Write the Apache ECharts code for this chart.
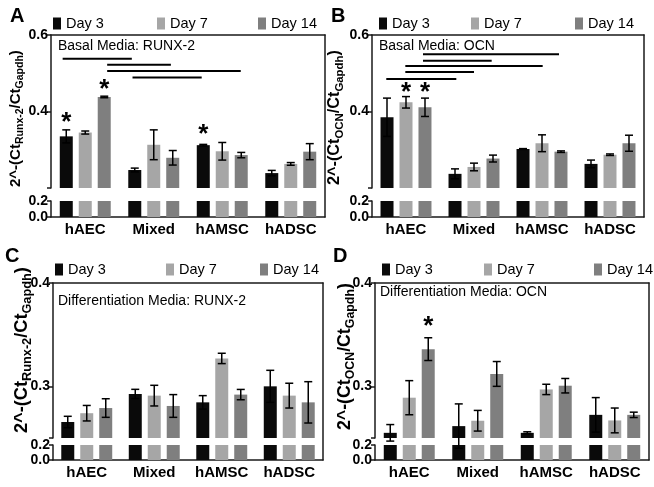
<!DOCTYPE html>
<html><head><meta charset="utf-8">
<script src="https://cdn.jsdelivr.net/npm/echarts@6/dist/echarts.min.js"></script>
<style>html,body{margin:0;padding:0;background:#fff}#c{width:654px;height:487px}</style>
</head><body><div id="c"></div>
<script>
const categories = ['hAEC', 'Mixed', 'hAMSC', 'hADSC'];
const days = ['Day 3', 'Day 7', 'Day 14'];

// Panel A: Basal Media RUNX-2
const aDay3 = [0.335, 0.247, 0.312, 0.239];
const aDay7 = [0.345, 0.313, 0.296, 0.263];
const aDay14 = [0.438, 0.279, 0.286, 0.295];
const aErr3 = [0.017, 0.005, 0.002, 0.007];
const aErr7 = [0.004, 0.039, 0.023, 0.0035];
const aErr14 = [0.002, 0.019, 0.007, 0.021];
const aStars = [[0, 0, 0.383], [0, 2, 0.470], [2, 0, 0.352]]; // [category, day, value]
const aSig = [[-0.33, 0.68, 0.538], [0.32, 1.25, 0.522], [0.32, 2.27, 0.506], [0.69, 1.70, 0.489]]; // [from, to, value]

// Panel B: Basal Media OCN
const bDay3 = [0.385, 0.237, 0.302, 0.263];
const bDay7 = [0.424, 0.255, 0.317, 0.287];
const bDay14 = [0.411, 0.277, 0.295, 0.317];
const bErr3 = [0.05, 0.013, 0.001, 0.010];
const bErr7 = [0.015, 0.010, 0.022, 0.002];
const bErr14 = [0.024, 0.009, 0.002, 0.021];
const bStars = [[0, 1, 0.461], [0, 2, 0.461]];
const bSig = [[-0.29, 0.74, 0.485], [-0.01, 1.00, 0.503], [-0.01, 2.01, 0.519], [0.25, 1.26, 0.533], [0.25, 2.25, 0.550]];

// Panel C: Differentiation Media RUNX-2
const cDay3 = [0.2655, 0.2926, 0.2845, 0.300];
const cDay7 = [0.274, 0.291, 0.327, 0.291];
const cDay14 = [0.279, 0.281, 0.292, 0.2845];
const cErr3 = [0.0055, 0.0045, 0.0065, 0.0155];
const cErr7 = [0.0075, 0.010, 0.005, 0.012];
const cErr14 = [0.009, 0.011, 0.005, 0.020];
const cStars = [];
const cSig = [];

// Panel D: Differentiation Media OCN
const dDay3 = [0.255, 0.2615, 0.255, 0.2724];
const dDay7 = [0.289, 0.2667, 0.297, 0.267];
const dDay14 = [0.336, 0.312, 0.3006, 0.2724];
const dErr3 = [0.008, 0.0215, 0.001, 0.0167];
const dErr7 = [0.0165, 0.010, 0.005, 0.012];
const dErr14 = [0.011, 0.012, 0.007, 0.0026];
const dStars = [[0, 2, 0.3625]];
const dSig = [];

// Axis ranges and tick labels
const upperRangeAB = [0.2, 0.6];
const upperLabelsAB = [0.4, 0.6];
const upperRangeCD = [0.25, 0.4];
const upperLabelsCD = [0.3, 0.4];
const lowerRange = [0, 0.2];
const lowerLabels = [0.0, 0.2];

const panelLetters = ['A', 'B', 'C', 'D'];
const panelNotes = ['Basal Media: RUNX-2', 'Basal Media: OCN', 'Differentiation Media: RUNX-2', 'Differentiation Media: OCN'];
const geneNames = ['Runx-2', 'OCN', 'Runx-2', 'OCN'];

// ---------- build ----------
const FONT = '"Liberation Sans", Arial, Helvetica, sans-serif';
const colors = ['#0a0a0a', '#a6a6a6', '#7f7f7f'];
const AXC = '#1a1a1a';
const BAR_W = 13, BAR_STEP = 19, CAP = 8;
const SUB = 0.7;

const panels = [
  {vals: [aDay3, aDay7, aDay14], errs: [aErr3, aErr7, aErr14], stars: aStars, sig: aSig, range: upperRangeAB, labels: upperLabelsAB,
   left: 51, width: 274, top: 35, uh: 153, lt: 201, lh: 16, letter: [10, 6], note: [58, 39], title: [16, 118.5, 137],
   legend: [53, 157, 258], legY: 16},
  {vals: [bDay3, bDay7, bDay14], errs: [bErr3, bErr7, bErr14], stars: bStars, sig: bSig, range: upperRangeAB, labels: upperLabelsAB,
   left: 372, width: 272, top: 35, uh: 153, lt: 201, lh: 16, letter: [331, 6], note: [379, 39], title: [335, 117.5, 135],
   legend: [379, 471, 575], legY: 16},
  {vals: [cDay3, cDay7, cDay14], errs: [cErr3, cErr7, cErr14], stars: cStars, sig: cSig, range: upperRangeCD, labels: upperLabelsCD,
   left: 53, width: 270, top: 283, uh: 155, lt: 445, lh: 15, letter: [5, 246], note: [58, 294], title: [22, 350, 166],
   legend: [55, 166, 260], legY: 262},
  {vals: [dDay3, dDay7, dDay14], errs: [dErr3, dErr7, dErr14], stars: dStars, sig: dSig, range: upperRangeCD, labels: upperLabelsCD,
   left: 375, width: 274, top: 283, uh: 155, lt: 445, lh: 15, letter: [333, 246], note: [380, 285], title: [345, 356.5, 147],
   legend: [382, 484, 594], legY: 262}
];

const measureCtx = document.createElement('canvas').getContext('2d');
function tw(text, size) { measureCtx.font = 'bold ' + size + 'px ' + FONT; return measureCtx.measureText(text).width; }

const grid = [], xAxis = [], yAxis = [], series = [], title = [], legend = [], graphic = [];
const lineStyle = {color: AXC, width: 1.5};
const axLine = {show: true, onZero: false, lineStyle};
const noLine = {show: false, onZero: false};

panels.forEach((p, i) => {
  const g0 = grid.length;
  grid.push({left: p.left, top: p.top, width: p.width, height: p.uh, outerBoundsMode: 'none'});
  grid.push({left: p.left, top: p.lt, width: p.width, height: p.lh, outerBoundsMode: 'none'});
  grid.push({left: p.left, top: p.top, width: p.width, height: p.lt + p.lh - p.top, outerBoundsMode: 'none'});
  const x0 = xAxis.length, y0 = yAxis.length;
  xAxis.push({gridIndex: g0, type: 'category', data: categories, show: false, axisLine: noLine});
  xAxis.push({gridIndex: g0 + 1, type: 'category', data: categories,
    axisLine: axLine, axisTick: {alignWithLabel: true, length: 3, lineStyle},
    axisLabel: {interval: 0, fontSize: 15, fontWeight: 'bold', color: '#000', fontFamily: FONT, margin: 5}});
  xAxis.push({gridIndex: g0, type: 'value', min: -0.5, max: 3.5, show: false, axisLine: noLine});
  xAxis.push({gridIndex: g0 + 2, type: 'value', position: 'top', min: 0, max: 1,
    axisLine: axLine, axisTick: {show: false}, axisLabel: {show: false}, splitLine: {show: false}});
  yAxis.push({gridIndex: g0, type: 'value', min: p.range[0], max: p.range[1],
    axisLine: axLine,
    axisTick: {show: true, length: 4, lineStyle, customValues: [p.range[0]].concat(p.labels)},
    axisLabel: {customValues: p.labels, formatter: v => v.toFixed(1), fontSize: 14, fontWeight: 'bold', color: '#000', fontFamily: FONT, margin: 3},
    splitLine: {show: false}});
  yAxis.push({gridIndex: g0 + 1, type: 'value', min: lowerRange[0], max: lowerRange[1],
    axisLine: axLine,
    axisTick: {show: true, length: 4, lineStyle, customValues: lowerLabels},
    axisLabel: {customValues: lowerLabels, formatter: v => v.toFixed(1), fontSize: 14, fontWeight: 'bold', color: '#000', fontFamily: FONT, margin: 3},
    splitLine: {show: false}});
  yAxis.push({gridIndex: g0 + 2, type: 'value', position: 'right', min: 0, max: 1,
    axisLine: axLine, axisTick: {show: false}, axisLabel: {show: false}, splitLine: {show: false}});

  days.forEach((d, k) => {
    series.push({name: d, type: 'bar', xAxisIndex: x0, yAxisIndex: y0, data: p.vals[k],
      barWidth: BAR_W, barGap: '46%', itemStyle: {color: colors[k]}, clip: true, silent: true});
  });
  days.forEach((d, k) => {
    series.push({name: d, type: 'bar', xAxisIndex: x0 + 1, yAxisIndex: y0 + 1, data: p.vals[k],
      barWidth: BAR_W, barGap: '46%', itemStyle: {color: colors[k]}, clip: true, silent: true});
  });
  const errData = [];
  categories.forEach((c, ci) => days.forEach((d, k) => errData.push([ci, k, p.vals[k][ci], p.errs[k][ci]])));
  series.push({type: 'custom', xAxisIndex: x0, yAxisIndex: y0, data: errData, encode: {x: 0, y: 2}, silent: true, z: 5,
    renderItem: (params, api) => {
      const ci = api.value(0), k = api.value(1), v = api.value(2), e = api.value(3);
      const t = api.coord([ci, v + e]), b = api.coord([ci, v - e]);
      const x = t[0] + (k - 1) * BAR_STEP, h = CAP / 2;
      const st = {stroke: '#000', lineWidth: 1.5};
      return {type: 'group', children: [
        {type: 'line', shape: {x1: x, y1: t[1], x2: x, y2: b[1]}, style: st},
        {type: 'line', shape: {x1: x - h, y1: t[1], x2: x + h, y2: t[1]}, style: st},
        {type: 'line', shape: {x1: x - h, y1: b[1], x2: x + h, y2: b[1]}, style: st}
      ]};
    }});
  if (p.stars.length) {
    series.push({type: 'custom', xAxisIndex: x0, yAxisIndex: y0, data: p.stars, encode: {x: 0, y: 2}, silent: true, z: 6,
      renderItem: (params, api) => {
        const c = api.coord([api.value(0), api.value(2)]);
        return {type: 'text', x: c[0] + (api.value(1) - 1) * BAR_STEP, y: c[1] + 5,
          style: {text: '*', font: 'bold 26px ' + FONT, fill: '#000', align: 'center', verticalAlign: 'middle'}};
      }});
  }
  if (p.sig.length) {
    series.push({type: 'custom', xAxisIndex: x0 + 2, yAxisIndex: y0, data: p.sig, encode: {x: 0, y: 2}, silent: true, z: 6,
      renderItem: (params, api) => {
        const a = api.coord([api.value(0), api.value(2)]), b = api.coord([api.value(1), api.value(2)]);
        return {type: 'line', shape: {x1: a[0], y1: a[1], x2: b[0], y2: b[1]}, style: {stroke: '#000', lineWidth: 2}};
      }});
  }
  days.forEach((d, k) => {
    legend.push({data: [{name: d, icon: 'rect'}], left: p.legend[k], top: p.legY, itemWidth: 8, itemHeight: 12, itemGap: 5,
      textStyle: {fontSize: 14.5, color: '#000', fontFamily: FONT}, selectedMode: false, padding: 0});
  });
  title.push({text: panelLetters[i], left: p.letter[0], top: p.letter[1], padding: 0,
    textStyle: {fontSize: 20, fontWeight: 'bold', color: '#000', fontFamily: FONT}});
  title.push({text: panelNotes[i], left: p.note[0], top: p.note[1], padding: 0,
    textStyle: {fontSize: 14, fontWeight: 'normal', color: '#000', fontFamily: FONT}});

  // y-axis title built token by token (main + subscript), rotated to read bottom-to-top
  const tokens = [['2^-(Ct', 0], [geneNames[i], 1], ['/Ct', 0], ['Gapdh', 1], [')', 0]];
  const unit = tokens.reduce((s, t) => s + tw(t[0], t[1] ? 10 * SUB : 10), 0);
  const f = 10 * p.title[2] / unit;
  let yCur = p.title[1] + p.title[2] / 2;
  tokens.forEach(t => {
    const size = t[1] ? f * SUB : f;
    const w = tw(t[0], size);
    graphic.push({type: 'text', x: p.title[0] + (t[1] ? f * 0.3 : 0), y: yCur, rotation: Math.PI / 2, silent: true,
      style: {text: t[0], font: 'bold ' + size + 'px ' + FONT, fill: '#000', align: 'left', verticalAlign: 'middle'}});
    yCur -= w;
  });
});

const chart = echarts.init(document.getElementById('c'), null, {renderer: 'canvas'});
chart.setOption({animation: false, backgroundColor: '#fff', grid, xAxis, yAxis, series, title, legend, graphic});
</script></body></html>
